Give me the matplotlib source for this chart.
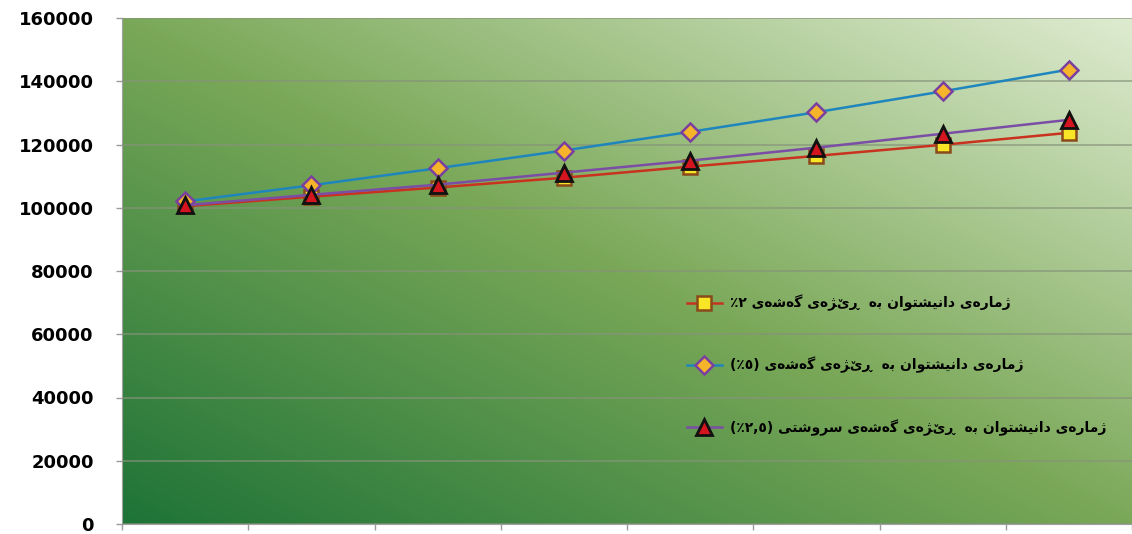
#!/usr/bin/env python3
"""Student population projection under three growth rates (Kurdish labels)."""

import matplotlib
matplotlib.use("Agg")
import matplotlib.pyplot as plt
import numpy as np

# eight yearly steps, no x labels in the original
years = list(range(8))

growth_2 = [100500, 103500, 106400, 109500, 113000, 116400, 119900, 123700]
growth_5 = [102000, 107100, 112500, 118100, 124000, 130200, 136800, 143700]
growth_25 = [100800, 104100, 107300, 111100, 114900, 119000, 123400, 127800]

labels = [
    "ژمارەی دانیشتوان بە  ڕێژەی گەشەی ٢٪",
    "ژمارەی دانیشتوان بە  ڕێژەی گەشەی (٥٪)",
    "ژمارەی دانیشتوان بە  ڕێژەی گەشەی سروشتی (٢,٥٪)",
]

y_ticks = [0, 20000, 40000, 60000, 80000, 100000, 120000, 140000, 160000]

# --- tiny arabic-script shaper (matplotlib does no shaping / bidi) ---
# iso, fin, ini, med
FORMS = {
    "ا": ("\uFE8D", "\uFE8E", None, None),
    "ب": ("\uFE8F", "\uFE90", "\uFE91", "\uFE92"),
    "ت": ("\uFE95", "\uFE96", "\uFE97", "\uFE98"),
    "د": ("\uFEA9", "\uFEAA", None, None),
    "ر": ("\uFEAD", "\uFEAE", None, None),
    "ژ": ("\uFB8A", "\uFB8B", None, None),
    "س": ("\uFEB1", "\uFEB2", "\uFEB3", "\uFEB4"),
    "ش": ("\uFEB5", "\uFEB6", "\uFEB7", "\uFEB8"),
    "م": ("\uFEE1", "\uFEE2", "\uFEE3", "\uFEE4"),
    "ن": ("\uFEE5", "\uFEE6", "\uFEE7", "\uFEE8"),
    "و": ("\uFEED", "\uFEEE", None, None),
    "ی": ("\uFBFC", "\uFBFD", "\uFBFE", "\uFBFF"),
    "گ": ("\uFB92", "\uFB93", "\uFB94", "\uFB95"),
}
RIGHT_ONLY = set("ادرژوڕە")
DUAL = set("بتسشمنیگێ")
DIGITS = set("٠١٢٣٤٥٦٧٨٩0123456789")
MIRROR = {"(": ")", ")": "("}


def shape(text):
    out = []
    for i, ch in enumerate(text):
        prev = text[i - 1] if i > 0 else ""
        nxt = text[i + 1] if i + 1 < len(text) else ""
        joins_prev = prev in DUAL and (ch in DUAL or ch in RIGHT_ONLY)
        joins_next = ch in DUAL and (nxt in DUAL or nxt in RIGHT_ONLY)
        forms = FORMS.get(ch)
        if forms is None:
            out.append(ch)
            continue
        if joins_prev and joins_next:
            glyph = forms[3]
        elif joins_prev:
            glyph = forms[1]
        elif joins_next:
            glyph = forms[2]
        else:
            glyph = forms[0]
        out.append(glyph or forms[0])
    return "".join(out)


def visual(text):
    # shape, then lay out right-to-left, keeping digit runs in order
    shaped = shape(text)
    tokens = []
    i = 0
    while i < len(shaped):
        ch = shaped[i]
        if ch in DIGITS:
            j = i
            while j < len(shaped) and (shaped[j] in DIGITS or
                                       (shaped[j] in ",." and j + 1 < len(shaped) and shaped[j + 1] in DIGITS)):
                j += 1
            tokens.append(shaped[i:j])
            i = j
        else:
            tokens.append(MIRROR.get(ch, ch))
            i += 1
    return "".join(reversed(tokens))


fig = plt.figure(figsize=(11.32, 5.34), dpi=100)
ax = fig.add_axes([122 / 1132, 10 / 534, 1010 / 1132, 506 / 534])

# diagonal green gradient behind the plot
gx, gy = np.meshgrid(np.linspace(0, 1, 200), np.linspace(0, 1, 200))
t = (gx + gy) / 2.0
stops = np.array([0.0, 0.5, 1.0])
cols = np.array([[30, 115, 55], [122, 168, 88], [222, 235, 208]]) / 255.0
grad = np.dstack([np.interp(t, stops, cols[:, k]) for k in range(3)])
ax.imshow(grad, extent=[0, 1, 0, 1], transform=ax.transAxes, origin="lower",
          aspect="auto", interpolation="bilinear", zorder=0)

ax.plot(years, growth_2, color="#c8321e", linewidth=1.8, marker="s",
        markersize=9.5, markerfacecolor="#f7e526", markeredgecolor="#8a4a1a",
        markeredgewidth=1.8, label=visual(labels[0]), zorder=3)
ax.plot(years, growth_5, color="#1f86bd", linewidth=1.8, marker="D",
        markersize=9, markerfacecolor="#f5b42a", markeredgecolor="#7a3fa0",
        markeredgewidth=1.8, label=visual(labels[1]), zorder=3)
ax.plot(years, growth_25, color="#7b4ea6", linewidth=1.8, marker="^",
        markersize=11, markerfacecolor="#d4141e", markeredgecolor="#111111",
        markeredgewidth=2.0, label=visual(labels[2]), zorder=4)

ax.set_xlim(-0.5, 7.5)
ax.set_ylim(0, 160000)
ax.set_yticks(y_ticks)
ax.set_yticklabels([str(v) for v in y_ticks], fontsize=13, fontweight="bold")
ax.set_xticks(np.arange(-0.5, 7.6, 1.0))
ax.set_xticklabels([])
ax.tick_params(axis="both", color="#9a9a9a", length=4.3, width=1)
ax.tick_params(axis="y", pad=16)
ax.grid(axis="y", color="#86937a", linewidth=1.2, alpha=0.75, zorder=1)
ax.set_axisbelow(False)

for side in ("top", "right"):
    ax.spines[side].set_visible(False)
for side in ("left", "bottom"):
    ax.spines[side].set_color("#a0a0a0")

leg = ax.legend(loc="upper left", bbox_to_anchor=(0.553, 0.467), frameon=False,
                borderpad=0, handlelength=2.45, handletextpad=0.58,
                labelspacing=3.3, prop={"family": "DejaVu Sans", "weight": "bold", "size": 10})
leg.set_zorder(5)

fig.savefig("out.png", dpi=100)
